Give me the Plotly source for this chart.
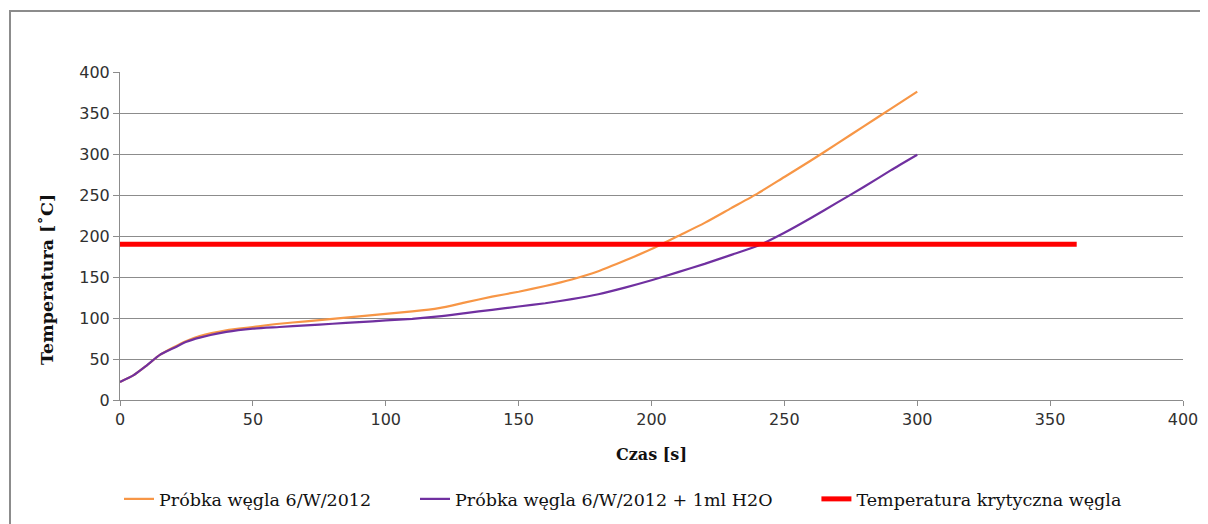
import plotly.graph_objects as go

time_s = [0, 5, 10, 15, 20, 25, 30, 40, 50, 60, 70, 80, 90, 100, 110, 120, 130, 140, 150,
          160, 170, 180, 190, 200, 210, 220, 230, 240, 250, 260, 270, 280, 290, 300]
sample_dry = [22, 30, 42, 55, 64, 72, 78, 85, 89, 93, 96, 99, 102, 105, 108, 112, 119, 126, 132,
              139, 147, 157, 170, 184, 200, 216, 234, 252, 272, 292, 313, 334, 355, 376]
sample_wet = [22, 30, 42, 55, 63, 71, 76, 83, 87, 89, 91, 93, 95, 97, 99, 102, 106, 110, 114,
              118, 123, 129, 137, 146, 156, 166, 177, 188, 204, 222, 241, 260, 280, 299]
crit_time = [0, 360]
crit_temp = [190, 190]

names = ["Próbka węgla 6/W/2012", "Próbka węgla 6/W/2012 + 1ml H2O", "Temperatura krytyczna węgla"]
x_title = "Czas [s]"
y_title = "Temperatura [˚C]"

# page body has an 8px margin, so figure coordinates are offset by 8px
OFF = 8
W, H = 1208 - OFF, 524 - OFF
L = 120 - OFF
T = 72 - OFF
R = W - (1183 - OFF)
B = H - (400 - OFF)
pw = W - L - R
ph = H - T - B

pad = "\u00a0" * 7
fig = go.Figure()
fig.add_trace(go.Scatter(x=time_s, y=sample_dry, mode="lines", name=names[0] + pad,
                         line=dict(color="#F79646", width=2.2, shape="spline", smoothing=0.6)))
fig.add_trace(go.Scatter(x=time_s, y=sample_wet, mode="lines", name=names[1] + pad,
                         line=dict(color="#7030A0", width=2.2, shape="spline", smoothing=0.6)))
fig.add_trace(go.Scatter(x=crit_time, y=crit_temp, mode="lines", name=names[2],
                         line=dict(color="#FF0000", width=5)))

tickfont = dict(family="DejaVu Sans", size=16, color="#303030")
titlefont = dict(family="DejaVu Serif", size=16, color="#111111", weight="bold")
grid = "#8c8c8c"
ticks = [0, 50, 100, 150, 200, 250, 300, 350, 400]

fig.update_layout(
    width=W, height=H,
    margin=dict(l=L, r=R, t=T, b=B, autoexpand=False),
    paper_bgcolor="white", plot_bgcolor="white",
    showlegend=True,
    legend=dict(orientation="h", x=(623 - 120) / pw, xanchor="center",
                y=-(481 - 400) / ph, yanchor="top",
                font=dict(family="DejaVu Serif", size=17.5, color="#111111"),
                itemwidth=30, traceorder="normal"),
    xaxis=dict(range=[0, 400], tickvals=ticks,
               showgrid=False, showline=True, linecolor=grid, linewidth=1,
               ticks="outside", ticklen=5, tickcolor=grid, tickfont=tickfont,
               zeroline=False,
               title=dict(text=x_title, font=titlefont, standoff=20)),
    yaxis=dict(range=[0, 400], tickvals=ticks,
               showgrid=True, gridcolor=grid, gridwidth=1,
               showline=True, linecolor=grid, linewidth=1,
               ticks="outside", ticklen=6, tickcolor=grid, tickfont=tickfont,
               zeroline=False),
    annotations=[dict(text=y_title, textangle=-90, xref="paper", yref="paper",
                      x=(47 - 120) / pw, y=(400 - 280) / ph, xanchor="center", yanchor="middle",
                      showarrow=False,
                      font=dict(family="DejaVu Serif", size=17.5, color="#111111", weight="bold"))],
    shapes=[dict(type="rect", xref="paper", yref="paper",
                 x0=(10 - 120) / pw, x1=(1230 - 120) / pw,
                 y0=(400 - 560) / ph, y1=(400 - 11) / ph,
                 line=dict(color="#8c8c8c", width=2), fillcolor="rgba(0,0,0,0)", layer="below")],
)

fig.write_html("out.html")
